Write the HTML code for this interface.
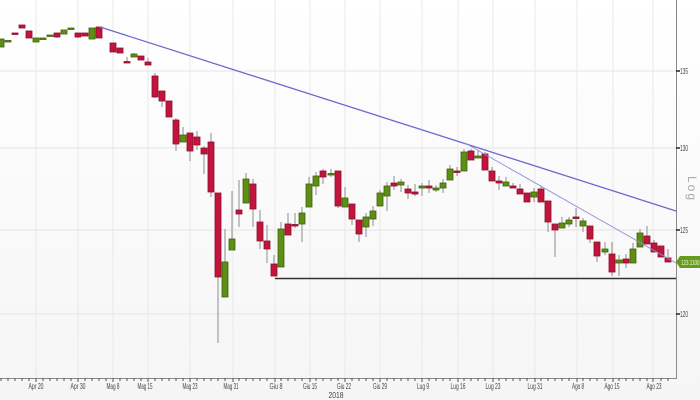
<!DOCTYPE html>
<html><head><meta charset="utf-8"><style>
html,body{margin:0;padding:0;background:#fff;}
svg{display:block;}
.r{fill:#c2143c;stroke:#8c0f2b;stroke-width:.8}
.g{fill:#5e8f14;stroke:#3e610b;stroke-width:.8}
.t{font-family:"Liberation Sans",sans-serif;font-size:8px;fill:#444;}
</style></head><body>
<svg width="700" height="400" viewBox="0 0 700 400" xmlns="http://www.w3.org/2000/svg">
<defs><linearGradient id="bg" x1="0" y1="0" x2="0" y2="1"><stop offset="0" stop-color="#ffffff"/><stop offset="1" stop-color="#f5f5f5"/></linearGradient></defs>
<rect x="0" y="0" width="700" height="400" fill="url(#bg)"/>
<!-- vertical grid -->
<path d="M36 0V378M78 0V378M113 0V378M148 0V378M190 0V378M233 0V378M275 0V378M310 0V378M345 0V378M380 0V378M422 0V378M458 0V378M493 0V378M535 0V378M577 0V378M613 0V378M653 0V378" stroke="#e9e9e9" stroke-width="1" fill="none"/>
<!-- horizontal grid -->
<path d="M0 71H676M0 148H676M0 230H676M0 314H676" stroke="#e4e4e4" stroke-width="1" fill="none"/>
<!-- axes -->
<path d="M676.5 0V378.5H0" stroke="#8a8a8a" stroke-width="1" fill="none"/>
<path d="M676 71H680M676 148H680M676 230H680M676 314H680" stroke="#222" stroke-width="1.5"/>
<text class="t" x="680" y="74" textLength="8" lengthAdjust="spacingAndGlyphs">135</text>
<text class="t" x="680" y="151" textLength="8" lengthAdjust="spacingAndGlyphs">130</text>
<text class="t" x="680" y="233" textLength="8" lengthAdjust="spacingAndGlyphs">125</text>
<text class="t" x="680" y="317" textLength="8" lengthAdjust="spacingAndGlyphs">120</text>
<text x="0" y="0" transform="translate(688,176) rotate(90)" font-family="Liberation Sans, sans-serif" font-size="12" fill="#aaa" letter-spacing="2">Log</text>
<!-- minor x ticks -->
<path d="M1 378V381M8 378V381M15 378V381M22 378V381M29 378V381M36 378V382M43 378V381M50 378V381M57 378V381M64 378V381M71 378V381M78 378V382M85 378V381M92 378V381M99 378V381M106 378V381M113 378V382M120 378V381M127 378V381M134 378V381M141 378V381M148 378V382M155 378V381M162 378V381M169 378V381M176 378V381M183 378V381M190 378V382M197 378V381M204 378V381M211 378V381M218 378V381M225 378V381M233 378V382M239 378V381M246 378V381M253 378V381M260 378V381M267 378V381M275 378V382M281 378V381M288 378V381M295 378V381M302 378V381M310 378V382M316 378V381M323 378V381M331 378V381M338 378V381M345 378V382M352 378V381M359 378V381M366 378V381M373 378V381M380 378V382M387 378V381M394 378V381M401 378V381M408 378V381M415 378V381M422 378V382M429 378V381M436 378V381M443 378V381M450 378V381M458 378V382M464 378V381M471 378V381M478 378V381M485 378V381M493 378V382M499 378V381M506 378V381M513 378V381M520 378V381M527 378V381M535 378V382M541 378V381M548 378V381M555 378V381M562 378V381M569 378V381M577 378V382M583 378V381M590 378V381M597 378V381M605 378V381M613 378V382M619 378V381M626 378V381M633 378V381M640 378V381M647 378V381M653 378V382M661 378V381M668 378V381" stroke="#555" stroke-width="1"/>
<!-- x labels -->
<g class="t" text-anchor="middle">
<text x="36" y="389" textLength="15" lengthAdjust="spacingAndGlyphs">Apr 20</text>
<text x="78" y="389" textLength="15" lengthAdjust="spacingAndGlyphs">Apr 30</text>
<text x="113" y="389" textLength="13" lengthAdjust="spacingAndGlyphs">Mag 8</text>
<text x="145" y="389" textLength="15" lengthAdjust="spacingAndGlyphs">Mag 15</text>
<text x="190" y="389" textLength="15" lengthAdjust="spacingAndGlyphs">Mag 23</text>
<text x="231" y="389" textLength="15" lengthAdjust="spacingAndGlyphs">Mag 31</text>
<text x="276" y="389" textLength="13" lengthAdjust="spacingAndGlyphs">Giu 8</text>
<text x="310" y="389" textLength="14" lengthAdjust="spacingAndGlyphs">Giu 15</text>
<text x="344" y="389" textLength="14" lengthAdjust="spacingAndGlyphs">Giu 22</text>
<text x="380" y="389" textLength="14" lengthAdjust="spacingAndGlyphs">Giu 29</text>
<text x="423" y="389" textLength="12" lengthAdjust="spacingAndGlyphs">Lug 9</text>
<text x="458" y="389" textLength="15" lengthAdjust="spacingAndGlyphs">Lug 16</text>
<text x="493" y="389" textLength="15" lengthAdjust="spacingAndGlyphs">Lug 23</text>
<text x="535" y="389" textLength="15" lengthAdjust="spacingAndGlyphs">Lug 31</text>
<text x="578" y="389" textLength="12" lengthAdjust="spacingAndGlyphs">Ago 8</text>
<text x="612" y="389" textLength="15" lengthAdjust="spacingAndGlyphs">Ago 15</text>
<text x="654" y="389" textLength="15" lengthAdjust="spacingAndGlyphs">Ago 23</text>
<text x="336" y="398" textLength="15" lengthAdjust="spacingAndGlyphs">2018</text>
</g>
<!-- support line -->
<path d="M275 278.5H676" stroke="#333" stroke-width="1.6"/>
<!-- wicks -->
<path d="M57 33V38M78 33V38M127 57V63M134 53V57M148 58V65M155 73V98M162 91V107M176 118V151M183 127V142M190 133V161M197 131V150M204 146V174M211 133V197M218 193V343M225 229V297M232 191V250M239 180V227M246 173V203M253 179V227M260 210V249M267 225V263M274 255V276M281 222V267M288 213V235M295 213V228M302 207V242M309 177V207M316 172V195M323 169V184M331 169V177M338 171V208M345 187V207M352 204V225M359 220V242M366 213V237M373 206V226M380 190V206M387 182V211M394 176V190M401 179V192M408 185V199M415 184V196M422 183V196M429 180V193M436 185V192M443 179V193M450 165V180M457 167V176M464 149V171M471 149V160M478 150V158M485 152V170M492 167V181M499 176V190M506 177V186M513 183V188M520 184V194M534 188V202M541 186V202M548 201V232M555 224V257M562 217V228M569 217V227M576 208V227M583 218V232M590 226V243M597 242V262M605 242V255M612 242V276M619 255V276M626 254V268M633 243V263M640 229V247M647 226V244M654 240V252M668 249V262" stroke="#8c8c8c" stroke-width="1" fill="none"/>
<!-- bodies -->
<g>
<rect class="g" x="-2" y="39" width="6" height="8"/>
<rect class="g" x="5" y="40.5" width="6" height="1.5"/>
<rect class="r" x="12" y="33" width="6" height="1.5"/>
<rect class="r" x="19" y="25" width="6" height="3"/>
<rect class="r" x="26" y="31" width="6" height="7"/>
<rect class="g" x="33" y="38" width="6" height="4"/>
<rect class="g" x="40" y="38" width="6" height="1.5"/>
<rect class="g" x="47" y="35" width="6" height="1.5"/>
<rect class="r" x="54" y="33" width="6" height="4"/>
<rect class="g" x="61" y="30" width="6" height="4"/>
<rect class="g" x="68" y="28" width="6" height="1.5"/>
<rect class="r" x="75" y="33" width="6" height="4"/>
<rect class="r" x="82" y="33" width="6" height="3"/>
<rect class="g" x="89" y="28" width="6" height="11"/>
<rect class="r" x="96" y="27" width="6" height="11"/>
<rect class="r" x="110" y="43" width="6" height="9"/>
<rect class="r" x="117" y="48" width="6" height="5"/>
<rect class="r" x="124" y="61.5" width="6" height="1.5"/>
<rect class="g" x="131" y="54" width="6" height="3"/>
<rect class="r" x="138" y="56" width="6" height="4"/>
<rect class="r" x="145" y="62" width="6" height="3"/>
<rect class="r" x="152" y="76" width="6" height="21"/>
<rect class="r" x="159" y="91" width="6" height="10"/>
<rect class="r" x="166" y="101" width="6" height="16"/>
<rect class="r" x="173" y="120" width="6" height="24"/>
<rect class="g" x="180" y="135" width="6" height="7"/>
<rect class="r" x="187" y="133" width="6" height="18"/>
<rect class="r" x="194" y="137" width="6" height="8"/>
<rect class="r" x="201" y="148" width="6" height="6"/>
<rect class="r" x="208" y="142" width="6" height="50"/>
<rect class="r" x="215" y="193" width="6" height="84"/>
<rect class="g" x="222" y="262" width="6" height="35"/>
<rect class="g" x="229" y="239" width="6" height="11"/>
<rect class="r" x="236" y="210" width="6" height="4"/>
<rect class="g" x="243" y="179" width="6" height="24"/>
<rect class="r" x="250" y="184" width="6" height="25"/>
<rect class="r" x="257" y="222" width="6" height="19"/>
<rect class="r" x="264" y="241" width="6" height="8"/>
<rect class="r" x="271" y="264" width="6" height="12"/>
<rect class="g" x="278" y="229" width="6" height="38"/>
<rect class="r" x="285" y="224" width="6" height="11"/>
<rect class="r" x="292" y="224.5" width="6" height="1.5"/>
<rect class="g" x="299" y="213" width="6" height="11"/>
<rect class="g" x="306" y="184" width="6" height="23"/>
<rect class="g" x="313" y="176" width="6" height="10"/>
<rect class="r" x="320" y="171" width="6" height="6"/>
<rect class="g" x="328" y="173.5" width="6" height="1.5"/>
<rect class="r" x="335" y="171" width="6" height="35"/>
<rect class="g" x="342" y="198" width="6" height="9"/>
<rect class="r" x="349" y="204" width="6" height="15"/>
<rect class="r" x="356" y="220" width="6" height="14"/>
<rect class="g" x="363" y="217" width="6" height="10"/>
<rect class="g" x="370" y="211" width="6" height="8"/>
<rect class="g" x="377" y="193" width="6" height="13"/>
<rect class="g" x="384" y="186" width="6" height="10"/>
<rect class="r" x="391" y="183" width="6" height="3"/>
<rect class="g" x="398" y="182" width="6" height="3"/>
<rect class="r" x="405" y="189" width="6" height="4"/>
<rect class="r" x="412" y="192" width="6" height="2"/>
<rect class="g" x="419" y="186" width="6" height="2"/>
<rect class="r" x="426" y="186" width="6" height="2"/>
<rect class="g" x="433" y="188" width="6" height="2"/>
<rect class="g" x="440" y="183" width="6" height="5"/>
<rect class="g" x="447" y="169" width="6" height="11"/>
<rect class="r" x="454" y="171" width="6" height="1.5"/>
<rect class="g" x="461" y="152" width="6" height="19"/>
<rect class="r" x="468" y="151" width="6" height="9"/>
<rect class="g" x="475" y="156" width="6" height="2"/>
<rect class="r" x="482" y="154" width="6" height="16"/>
<rect class="r" x="489" y="171" width="6" height="10"/>
<rect class="r" x="496" y="181" width="6" height="2"/>
<rect class="g" x="503" y="182" width="6" height="4"/>
<rect class="r" x="510" y="186" width="6" height="2"/>
<rect class="r" x="517" y="189" width="6" height="5"/>
<rect class="r" x="524" y="193" width="6" height="9"/>
<rect class="g" x="531" y="192" width="6" height="5"/>
<rect class="r" x="538" y="189" width="6" height="13"/>
<rect class="r" x="545" y="201" width="6" height="21"/>
<rect class="r" x="552" y="224" width="6" height="6"/>
<rect class="g" x="559" y="223" width="6" height="5"/>
<rect class="g" x="566" y="220" width="6" height="4"/>
<rect class="r" x="573" y="217" width="6" height="1.5"/>
<rect class="g" x="580" y="221" width="6" height="5"/>
<rect class="r" x="587" y="226" width="6" height="13"/>
<rect class="r" x="594" y="242" width="6" height="14"/>
<rect class="g" x="602" y="249" width="6" height="3"/>
<rect class="r" x="609" y="254" width="6" height="18"/>
<rect class="g" x="616" y="260" width="6" height="3"/>
<rect class="r" x="623" y="259" width="6" height="4"/>
<rect class="g" x="630" y="249" width="6" height="14"/>
<rect class="g" x="637" y="233" width="6" height="14"/>
<rect class="r" x="644" y="236" width="6" height="8"/>
<rect class="r" x="651" y="243" width="6" height="9"/>
<rect class="r" x="658" y="246" width="6" height="11"/>
<rect class="r" x="665" y="258" width="6" height="4"/>
</g>
<!-- trend lines -->
<path d="M100 27L676 211" stroke="#6a6acc" stroke-width="1.3" fill="none"/>
<path d="M465 143L676 263" stroke="#8f8fdc" stroke-width="0.9" fill="none"/>
<!-- price label -->
<polygon points="676,262 680,256 700,256 700,268 680,268" fill="#659a1c"/>
<text x="681" y="265" font-family="Liberation Sans, sans-serif" font-size="7" fill="#f4ffe8" textLength="18.5" lengthAdjust="spacingAndGlyphs">123.1100</text>
</svg>
</body></html>
